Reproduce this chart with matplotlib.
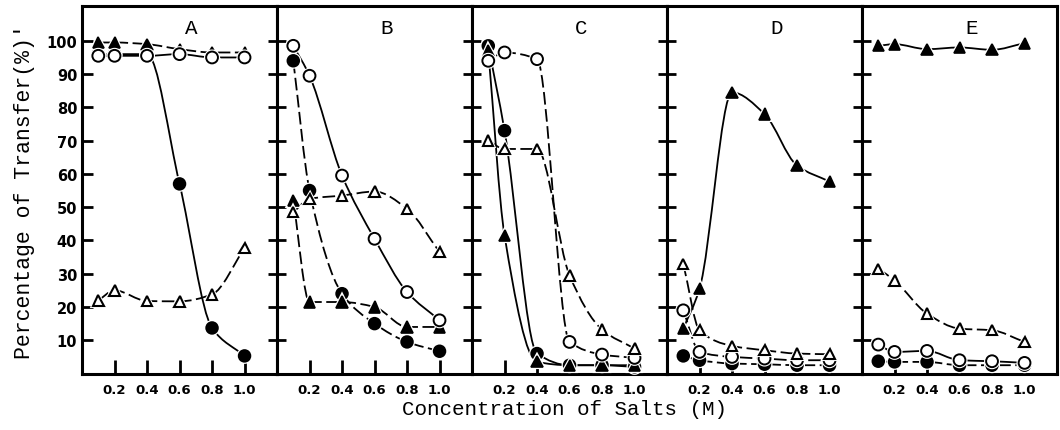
import numpy as np
import matplotlib
matplotlib.use('Agg')
import matplotlib.pyplot as plt
import matplotlib.patheffects as pe
from matplotlib.path import Path
from matplotlib.patches import PathPatch

# salt concentration (M) at which transfer was measured
conc = [0.1, 0.2, 0.4, 0.6, 0.8, 1.0]
tick_vals = [0.2, 0.4, 0.6, 0.8, 1.0]
tick_text = ['0.2', '0.4', '0.6', '0.8', '1.0']
panel_names = ['A', 'B', 'C', 'D', 'E']

# percentage of transfer, one list per symbol and panel
A_open_circle = [95.5, 95.5, 95.5, 96, 95, 95]
A_filled_circle = [96, 96, 96, 57, 13.7, 5.3]
A_open_tri = [22, 25, 21.8, 21.7, 23.8, 37.7]
A_filled_tri = [99.5, 99.5, 99, 97.5, 96.5, 96.5]

B_open_circle = [98.5, 89.5, 59.5, 40.5, 24.5, 16]
B_filled_circle = [94, 55, 24, 15, 9.5, 6.7]
B_open_tri = [48.5, 52.5, 53.5, 54.7, 49.5, 36.5]
B_filled_tri = [52, 21.5, 21.5, 20, 14, 14]

C_open_circle = [94, 96.5, 94.5, 9.5, 5.7, 4.7]
C_filled_circle = [98.5, 73, 6, 2.5, 2.5, 2]
C_open_tri = [70, 67.5, 67.5, 29.5, 13.2, 7.5]
C_filled_tri = [97, 41.5, 3.5, 2.5, 2.5, 2.5]

D_open_circle = [19, 6.5, 5, 4.5, 4, 4]
D_filled_circle = [5.3, 4, 3, 2.8, 2.5, 2.5]
D_open_tri = [33, 13, 8.3, 7, 6, 5.8]
D_filled_tri = [13.5, 25.5, 84.5, 78, 62.5, 57.7]

E_open_circle = [8.7, 6.5, 6.8, 4, 3.7, 3.2]
E_filled_circle = [3.7, 3.5, 3.5, 2.5, 2.5, 2.5]
E_open_tri = [31.5, 28, 18, 13.5, 13, 9.5]
E_filled_tri = [98.5, 99, 97.5, 98, 97.3, 99.3]

# (filled circle, filled triangle, open circle, open triangle) per panel
panel_data = [
    (A_filled_circle, A_filled_tri, A_open_circle, A_open_tri),
    (B_filled_circle, B_filled_tri, B_open_circle, B_open_tri),
    (C_filled_circle, C_filled_tri, C_open_circle, C_open_tri),
    (D_filled_circle, D_filled_tri, D_open_circle, D_open_tri),
    (E_filled_circle, E_filled_tri, E_open_circle, E_open_tri),
]
# which curves are drawn dashed, same order as above
panel_dashes = [
    (False, True, False, True),
    (True, True, False, True),
    (False, False, True, True),
    (True, False, True, True),
    (True, False, False, True),
]


def curve(ax, x, y, dashed):
    # smooth monotone cubic through the measured points
    x = np.asarray(x, float)
    y = np.asarray(y, float)
    h = np.diff(x)
    d = np.diff(y) / h
    m = np.zeros_like(y)
    m[0] = d[0]
    m[-1] = d[-1]
    for i in range(1, len(y) - 1):
        if d[i - 1] * d[i] <= 0:
            m[i] = 0
        else:
            w1 = 2 * h[i] + h[i - 1]
            w2 = h[i] + 2 * h[i - 1]
            m[i] = (w1 + w2) / (w1 / d[i - 1] + w2 / d[i])
    verts = [(x[0], y[0])]
    codes = [Path.MOVETO]
    for i in range(len(h)):
        verts += [(x[i] + h[i] / 3, y[i] + m[i] * h[i] / 3),
                  (x[i + 1] - h[i] / 3, y[i + 1] - m[i + 1] * h[i] / 3),
                  (x[i + 1], y[i + 1])]
        codes += [Path.CURVE4] * 3
    ls = (0, (7, 2.5)) if dashed else '-'
    ax.add_patch(PathPatch(Path(verts, codes), fill=False, lw=1.3, ls=ls,
                           ec='black', zorder=2, capstyle='butt'))


halo = [pe.Stroke(linewidth=3, foreground='white'), pe.Normal()]
styles = [
    dict(marker='o', ms=8.5, mfc='black', mec='black', mew=1.2),
    dict(marker='^', ms=8, mfc='black', mec='black', mew=1.2),
    dict(marker='o', ms=8.5, mfc='white', mec='black', mew=1.4),
    dict(marker='^', ms=7.5, mfc='white', mec='black', mew=1.5),
]

fig = plt.figure(figsize=(10.6, 4.31), dpi=100)
axes = fig.subplots(1, 5, sharey=True)
plt.subplots_adjust(left=0.0774, right=0.9972, bottom=0.131, top=0.984, wspace=0)

for i, ax in enumerate(axes):
    series = panel_data[i]
    for j in range(4):
        curve(ax, conc, series[j], panel_dashes[i][j])
        ax.plot(conc, series[j], ls='none', zorder=3 + j, path_effects=halo,
                clip_on=False, **styles[j])
    ax.set_xlim(0.0, 1.2)
    ax.set_ylim(0, 110.5)
    ax.set_xticks(tick_vals)
    ax.set_xticklabels(tick_text, fontweight='bold', fontsize=9.5)
    ax.set_yticks(range(10, 101, 10))
    ax.tick_params(axis='x', direction='in', length=10, width=2, pad=7)
    if i == 0:
        ax.tick_params(axis='y', direction='in', length=8, width=2)
    else:
        ax.tick_params(axis='y', direction='inout', length=13, width=2,
                       labelleft=False)
    for sp in ax.spines.values():
        sp.set_linewidth(2.2)
    ax.text(0.56, 0.94, panel_names[i], transform=ax.transAxes, ha='center',
            va='center', family='Liberation Mono', fontsize=15)

for lab in axes[0].get_yticklabels():
    lab.set_fontweight('bold')
    lab.set_fontsize(10.5)

fig.text(0.533, 0.049, 'Concentration of Salts (M)', ha='center', va='center',
         family='Liberation Mono', fontsize=15)
fig.text(0.023, 0.555, "Percentage of Transfer(%)'", ha='center', va='center',
         rotation=90, family='Liberation Mono', fontsize=15.5)

fig.savefig('out.png', dpi=100)
